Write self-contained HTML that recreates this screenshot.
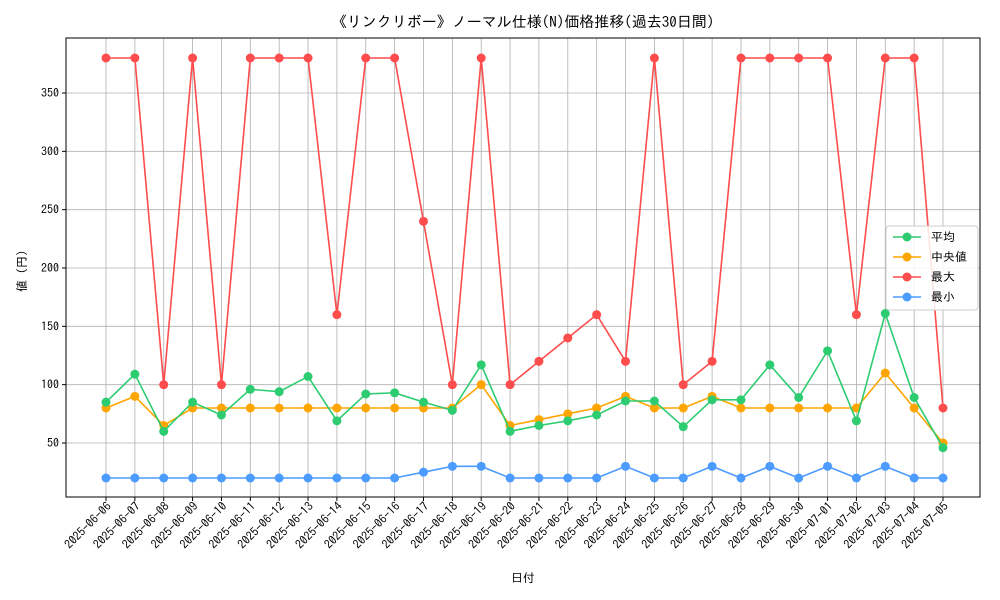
<!DOCTYPE html>
<html><head><meta charset="utf-8"><style>
body{margin:0;background:#fff;}
svg{display:block;font-family:"IPAGothic","Noto Sans CJK JP",sans-serif;}
</style></head><body>
<svg id="chart" width="1000" height="600"></svg>
<script>
const dates=["2025-06-06","2025-06-07","2025-06-08","2025-06-09","2025-06-10","2025-06-11","2025-06-12","2025-06-13","2025-06-14","2025-06-15","2025-06-16","2025-06-17","2025-06-18","2025-06-19","2025-06-20","2025-06-21","2025-06-22","2025-06-23","2025-06-24","2025-06-25","2025-06-26","2025-06-27","2025-06-28","2025-06-29","2025-06-30","2025-07-01","2025-07-02","2025-07-03","2025-07-04","2025-07-05"];
const avgVals=[85,109,60,85,74,96,94,107,69,92,93,85,78,117,60,65,69,74,86,86,64,87,87,117,89,129,69,161,89,46];
const medianVals=[80,90,65,80,80,80,80,80,80,80,80,80,80,100,65,70,75,80,90,80,80,90,80,80,80,80,80,110,80,50];
const maxVals=[380,380,100,380,100,380,380,380,160,380,380,240,100,380,100,120,140,160,120,380,100,120,380,380,380,380,160,380,380,80];
const minVals=[20,20,20,20,20,20,20,20,20,20,20,25,30,30,20,20,20,20,30,20,20,30,20,30,20,30,20,30,20,20];
const yTicks=[50,100,150,200,250,300,350];
const seriesNames=["平均","中央値","最大","最小"];

const NS="http://www.w3.org/2000/svg";
const svg=document.getElementById('chart');
const L=66,R=980,T=38,B=497;
const x=i=>106+i*(943-106)/(dates.length-1);
const y=v=>443-(v-50)*(350/300);
function mk(tag,attrs,parent){const e=document.createElementNS(NS,tag);for(const k in attrs)e.setAttribute(k,attrs[k]);(parent||svg).appendChild(e);return e;}

const grid=mk('g',{});


dates.forEach((d,i)=>{mk('line',{x1:x(i),x2:x(i),y1:T,y2:B,stroke:'#b0b0b0','stroke-width':0.8},grid);});
yTicks.forEach(v=>{mk('line',{x1:L,x2:R,y1:y(v),y2:y(v),stroke:'#b0b0b0','stroke-width':0.8},grid);});

const frame=mk('rect',{x:L,y:T,width:R-L,height:B-T,fill:'none',stroke:'#000','stroke-width':1});



yTicks.forEach(v=>{
  mk('line',{x1:L-4,x2:L,y1:y(v),y2:y(v),stroke:'#000'});
  const t=mk('text',{x:L-7,y:y(v)+4,'text-anchor':'end','font-size':12});
  t.textContent=v;
  
  
});
dates.forEach((d,i)=>{
  mk('line',{x1:x(i),x2:x(i),y1:B,y2:B+4,stroke:'#000'});
  const t=mk('text',{x:x(i)+6,y:B+10,'text-anchor':'end','font-size':12,transform:`rotate(-45 ${x(i)+6} ${B+10})`});
  t.textContent=d;
  
  
});

const colors=['#2ecc71','#ffa500','#ff4c4c','#4c9bff'];
const all=[avgVals,medianVals,maxVals,minVals];
[2,1,0,3].forEach(si=>{
  const vals=all[si];
  const g=mk('g',{});
  
  
  mk('polyline',{points:vals.map((v,i)=>x(i)+','+y(v)).join(' '),fill:'none',stroke:colors[si],'stroke-width':1.6},g);
  vals.forEach((v,i)=>{
    const c=mk('circle',{cx:x(i),cy:y(v),r:4.5,fill:colors[si]},g);
    
    
  });
});

const title=mk('text',{x:523,y:27,'text-anchor':'middle','font-size':15});
title.textContent='《リンクリボー》ノーマル仕様(N)価格推移(過去30日間)';


const xt=mk('text',{x:523,y:582,'text-anchor':'middle','font-size':12});
xt.textContent='日付';


const yt=mk('text',{x:26,y:268,'text-anchor':'middle','font-size':12,transform:'rotate(-90 26 268)'});
yt.textContent='値（円）';



const lg=mk('g',{});


mk('rect',{x:886,y:226,width:92,height:84,rx:3,fill:'#fff','fill-opacity':0.85,stroke:'#ccc'},lg);
seriesNames.forEach((n,i)=>{
  const yy=237+i*20;
  const e=mk('g',{},lg);
  
  
  mk('line',{x1:893,x2:921,y1:yy,y2:yy,stroke:colors[i],'stroke-width':1.6},e);
  mk('circle',{cx:907,cy:yy,r:4.5,fill:colors[i]},e);
  const t=mk('text',{x:931,y:yy+4,'font-size':12},e);
  t.textContent=n;
});
</script>
</body></html>
